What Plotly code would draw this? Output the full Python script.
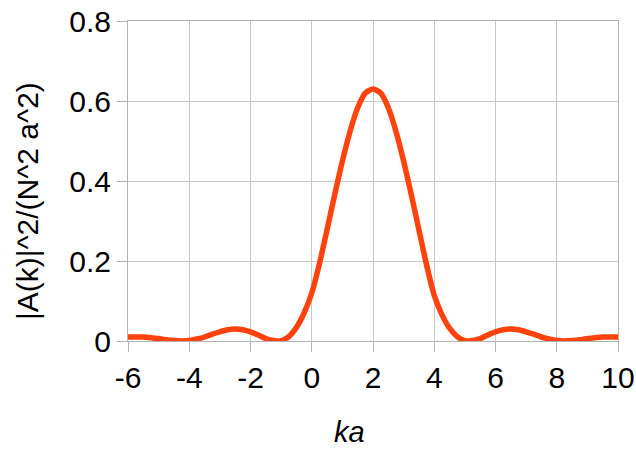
import plotly.graph_objects as go

# |A(k)|^2 / (N^2 a^2) sampled along ka
ka = [-6.0, -5.75, -5.5, -5.25, -5.0, -4.75, -4.5, -4.25, -4.0, -3.75, -3.5, -3.25,
      -3.0, -2.75, -2.5, -2.25, -2.0, -1.75, -1.5, -1.25, -1.0, -0.75, -0.5, -0.25,
      0.0, 0.25, 0.5, 0.75, 1.0, 1.25, 1.5, 1.75, 2.0, 2.25, 2.5, 2.75, 3.0, 3.25,
      3.5, 3.75, 4.0, 4.25, 4.5, 4.75, 5.0, 5.25, 5.5, 5.75, 6.0, 6.25, 6.5, 6.75,
      7.0, 7.25, 7.5, 7.75, 8.0, 8.25, 8.5, 8.75, 9.0, 9.25, 9.5, 9.75, 10.0]
amp = [0.010, 0.010, 0.010, 0.008, 0.006, 0.003, 0.001, 0.000, 0.001, 0.005, 0.010, 0.017,
       0.023, 0.028, 0.030, 0.028, 0.023, 0.015, 0.006, 0.001, 0.001, 0.011, 0.034, 0.070,
       0.120, 0.193, 0.278, 0.366, 0.450, 0.524, 0.583, 0.620, 0.630, 0.620, 0.583, 0.524,
       0.450, 0.366, 0.278, 0.190, 0.114, 0.066, 0.032, 0.011, 0.001, 0.001, 0.006, 0.015,
       0.023, 0.028, 0.030, 0.028, 0.023, 0.017, 0.010, 0.005, 0.001, 0.000, 0.001, 0.003,
       0.006, 0.008, 0.010, 0.010, 0.010]

x_ticks = [-6, -4, -2, 0, 2, 4, 6, 8, 10]
y_ticks = [0, 0.2, 0.4, 0.6, 0.8]
y_tick_text = ["0", "0.2", "0.4", "0.6", "0.8"]

fig = go.Figure(
    go.Scatter(
        x=ka, y=amp, mode="lines",
        line=dict(color="#ff420e", width=5.5, shape="spline", smoothing=0.6),
        hoverinfo="skip",
    )
)

font = "Liberation Sans, Arial, sans-serif"
axis_common = dict(
    showgrid=True, gridcolor="#c8c8c8", gridwidth=1,
    showline=True, linecolor="#b3b3b3", linewidth=1, mirror=True,
    ticks="outside", ticklen=10, tickcolor="#b3b3b3", tickwidth=1,
    zeroline=False, automargin=False,
    tickfont=dict(family=font, size=30, color="#000000"),
)

fig.update_layout(
    width=636, height=451,
    margin=dict(l=128, r=18, t=21, b=110),
    paper_bgcolor="white", plot_bgcolor="white",
    showlegend=False,
    xaxis=dict(range=[-6, 10], tickvals=x_ticks, ticktext=[str(v) for v in x_ticks], **axis_common),
    yaxis=dict(range=[0, 0.8], tickvals=y_ticks, ticktext=y_tick_text, **axis_common),
    annotations=[
        dict(text="<i>ka</i>", xref="paper", yref="paper", x=0.453, y=-0.284,
             xanchor="center", yanchor="middle", showarrow=False,
             font=dict(family=font, size=29, color="#000000")),
        dict(text="|A(k)|^2/(N^2 a^2)", xref="paper", yref="paper", x=-0.206, y=0.4375,
             xanchor="center", yanchor="middle", textangle=-90, showarrow=False,
             font=dict(family=font, size=30, color="#000000")),
    ],
)

fig.write_html("out.html")
